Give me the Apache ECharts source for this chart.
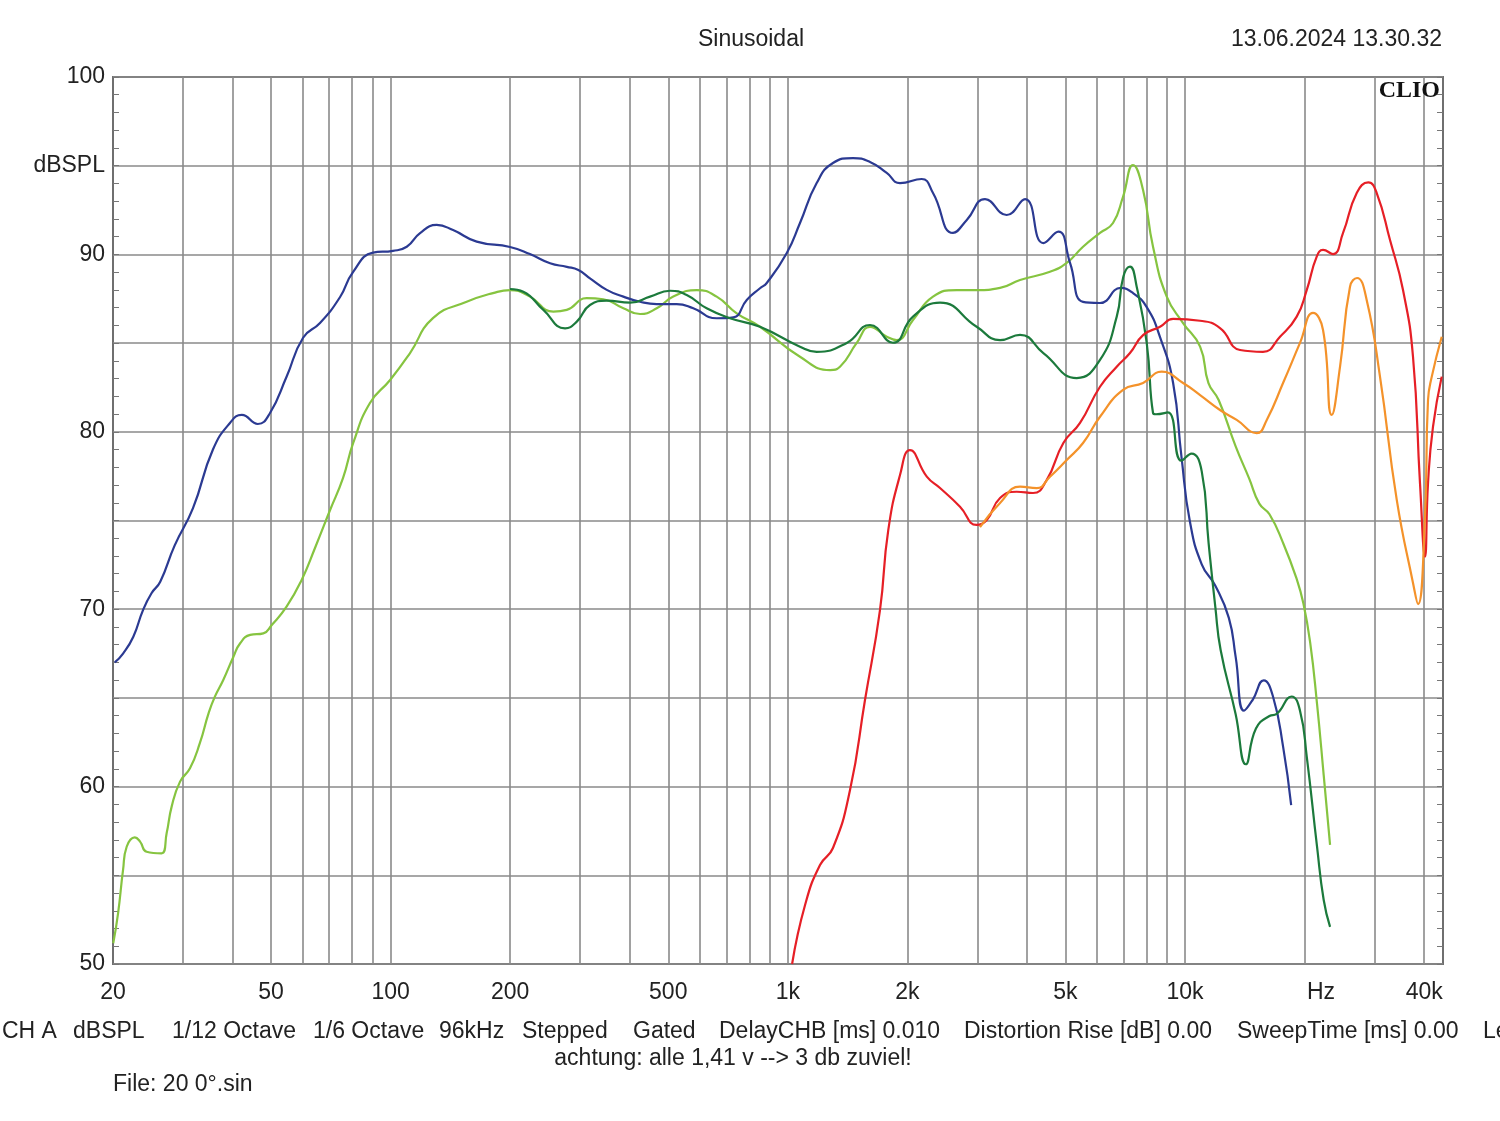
<!DOCTYPE html>
<html>
<head>
<meta charset="utf-8">
<script src="https://cdn.jsdelivr.net/npm/echarts@6/dist/echarts.min.js"></script>
<style>html,body{margin:0;padding:0;background:#fff;}#c{width:1500px;height:1121px;}</style>
</head>
<body>
<div id="c"></div>
<script>
// ---- data (frequency in Hz, level in dBSPL) ----
var blueFreq = [20.2,21.2,22.5,23.8,25.0,26.3,28.6,31.8,35.7,39.4,42.2,46.3,49.7,54.7,60.2,66.4,74.6,80.4,90.3,101.4,109.8,118.6,130.6,143.6,164.7,199.8,224.2,252,277.6,296.9,317.6,350,385.4,424.6,467.6,525,578,662,729,788,851,885,994,1073,1182,1299,1459,1610,1774,1916,2172,2320,2605,2822,3136,3556,3956,4398,4798,5134,5536,6108,6887,7396,8008,8650,9332,9794,10280,11016,11920,12890,13410,14080,14790,15780,16650,17650,18500];
var blueDb = [67.0,67.5,68.45,69.95,70.9,71.55,73.6,75.7,79.0,80.5,80.95,80.44,81.06,83.1,85.3,86.13,87.6,89.0,90.1,90.2,90.43,91.2,91.66,91.37,90.72,90.42,90.02,89.5,89.3,89.12,88.65,88.0,87.62,87.33,87.2,87.2,86.96,86.4,86.45,87.43,88.09,88.39,90.08,91.77,94.02,95.15,95.43,95.21,94.59,94.02,94.25,93.46,91.21,91.94,93.12,92.22,93.12,90.64,91.28,89.52,87.32,87.26,88.11,87.82,87.03,85.34,82.75,78.6,74.97,72.53,71.32,69.51,67.31,64.28,64.88,65.99,65.08,62.27,58.96];

var lightFreq = [20.03,20.6,21.2,21.65,22.7,23.4,24.3,26.5,27.3,28.1,29.5,31.25,33.1,34.8,36.1,37.9,40.2,41.8,44.3,47.8,50.2,54.7,59.7,64.5,70.4,75.9,80.5,88.7,99.7,111.9,127.8,155.4,181,199.8,224.2,256.9,277.6,311.6,343,385.4,424.6,467.6,514.8,589.6,662,743.6,851,1073,1277,1353,1491,1610,1774,1880,2066,2320,2662,2988,3422,3842,4571,5036,5536,6108,6586,6980,7396,7840,8306,8994,9886,10912,11454,12152,13410,14506,15380,16314,17650,19092,19862,20660,21490,22340,23180];
var lightDb = [51.17,52.87,55.3,56.61,57.14,56.9,56.33,56.24,57.38,58.87,60.28,61.03,62.46,64.13,65.07,66.01,67.32,68.08,68.55,68.64,69.11,70.14,71.65,73.45,75.59,77.4,79.37,81.62,82.92,84.44,86.41,87.33,87.82,87.99,87.62,86.77,86.87,87.53,87.47,86.96,86.64,86.96,87.62,87.99,87.62,86.68,85.92,84.23,83.48,83.67,85.01,85.92,85.36,85.17,86.3,87.62,87.99,87.99,88.11,88.56,89.02,89.52,90.43,91.21,91.77,93.25,95.04,93.63,90.43,87.62,86.13,84.8,82.75,81.79,79.18,77.36,75.95,75.35,73.74,71.72,70.32,68.1,64.68,60.65,56.71];

var darkFreq = [199.8,215.8,242.4,274.8,294.2,317.6,350,400.6,449.8,505.2,556.4,624.6,715.2,851,1073,1182,1407,1610,1839,2066,2416,2988,3422,3842,4398,5338,6108,6730,6992,7268,7556,8008,8306,8448,9052,9794,10382,11016,11462,11920,12292,13410,14224,15084,16314,16972,18538,19472,20256,21490,22340,23180];
var darkDb = [88.05,87.9,86.87,85.83,86.21,87.15,87.39,87.28,87.62,87.95,87.71,86.96,86.4,85.92,84.8,84.51,85.01,86.02,85.02,86.49,87.28,85.92,85.17,85.46,84.44,83.03,84.05,86.49,88.74,89.31,88.18,85.01,81.06,80.99,81.09,78.37,78.77,77.77,73.74,70.12,67.7,64.08,61.26,63.27,63.98,64.08,65.08,64.28,61.66,56.63,53.61,52.09];

var redFreq = [1025,1105,1205,1299,1434,1564,1706,1790,1916,2030,2238,2416,2713,2988,3168,3422,3769,4143,4484,4939,5440,6108,6730,7268,7852,8650,9332,10912,12248,13758,15712,17342,19104,20246,21454,22254,23580,24992,27052,28934,30380,32812,35380,37490,39040,40180,40900,42100,44280];
var redDb = [50.0,53.33,55.58,56.54,59.81,64.88,69.95,74.46,77.56,78.97,77.47,76.83,75.78,74.75,75.03,76.27,76.62,76.55,77.28,79.37,80.5,82.54,83.67,84.44,85.46,85.92,86.36,86.26,85.85,84.61,84.51,85.36,86.49,87.99,89.87,90.25,90.02,91.21,93.46,94.06,93.46,90.81,87.99,84.23,77.11,72.96,77.11,80.29,83.11];

var orangeFreq = [3046,3422,3842,4232,4571,5036,5536,6108,6980,7840,8734,9886,10912,12248,13490,15152,16060,17650,19472,20996,22254,23400,24560,26020,27102,28660,30960,34120,37490,38600,40180,40900,41800,44280];
var orangeDb = [74.63,75.99,76.91,76.83,77.47,78.41,79.37,80.85,82.36,82.75,83.39,82.75,82.07,81.23,80.67,79.93,80.67,82.75,85.01,86.7,85.74,80.95,83.67,88.18,88.67,87.43,83.11,76.16,71.48,70.29,75.21,81.79,83.11,85.36];

// axis ticks / labels
var xGridFreqs = [30,40,50,60,70,80,90,100,200,300,400,500,600,700,800,900,1000,2000,3000,4000,5000,6000,7000,8000,9000,10000,20000,30000,40000];
var xLabelFreqs = [20,50,100,200,500,1000,2000,5000,10000,22000,40000];
var xLabelTexts = ['20','50','100','200','500','1k','2k','5k','10k','Hz','40k'];
var yLabelValues = [100,95,90,80,70,60,50];
var yLabelTexts = ['100','dBSPL','90','80','70','60','50'];

var footerItems = [
  ['CH A',2],['dBSPL',73],['1/12 Octave',172],['1/6 Octave',313],['96kHz',439],['Stepped',522],['Gated',633],
  ['DelayCHB [ms] 0.010',719],['Distortion Rise [dB] 0.00',964],['SweepTime [ms] 0.00',1237],['Le',1483]
];

function pairs(f, d){ return f.map(function(v,i){ return [v, d[i]]; }); }

var FONT = '"Liberation Sans", Arial, sans-serif';
var FS = 23;
var chart = echarts.init(document.getElementById('c'), null, {renderer:'canvas'});

function lineSeries(name, f, d, color){
  return {
    name: name, type:'line', data: pairs(f,d), showSymbol:false, symbol:'none',
    smooth:0.5, clip:true,
    lineStyle:{color:color, width:2.2}, itemStyle:{color:color}, z:3
  };
}

var graphics = [
  {type:'text', x:751, y:28, style:{text:'Sinusoidal', font:FS+'px '+FONT, fill:'#222', textAlign:'center'}},
  {type:'text', x:1442, y:28, style:{text:'13.06.2024 13.30.32', font:FS+'px '+FONT, fill:'#222', textAlign:'right'}},
  {type:'text', x:1440, y:79, style:{text:'CLIO', font:'bold 24px "Liberation Serif", "DejaVu Serif", serif', fill:'#111', textAlign:'right'}, z:10},
  {type:'text', x:733, y:1047, style:{text:'achtung: alle 1,41 v --> 3 db zuviel!', font:FS+'px '+FONT, fill:'#222', textAlign:'center'}},
  {type:'text', x:113, y:1073, style:{text:'File: 20 0°.sin', font:FS+'px '+FONT, fill:'#222'}}
];
footerItems.forEach(function(it){
  graphics.push({type:'text', x:it[1], y:1020, style:{text:it[0], font:FS+'px '+FONT, fill:'#222'}});
});

var yAxisCommon = {
  type:'value', min:50, max:100, interval:5,
  axisLine:{show:false},
  axisTick:{show:true, inside:true, length:6, lineStyle:{color:'#777'}},
  minorTick:{show:true, splitNumber:5, length:6, lineStyle:{color:'#777', width:1}},
  minorSplitLine:{show:false}
};

chart.setOption({
  animation:false,
  backgroundColor:'#fff',
  grid:{left:113, top:77, width:1330, height:887, show:true, borderColor:'#6f6f6f', borderWidth:2, backgroundColor:'#fff', containLabel:false},
  xAxis:{
    type:'log', logBase:10, min:20, max:44610,
    axisLine:{show:false},
    axisTick:{show:false, customValues:xGridFreqs},
    axisLabel:{customValues:xLabelFreqs, margin:17, color:'#222', fontSize:FS, fontFamily:FONT,
      formatter:function(v){ for (var i=0;i<xLabelFreqs.length;i++){ if (Math.abs(v-xLabelFreqs[i])/xLabelFreqs[i]<0.01) return xLabelTexts[i]; } return ''; }},
    splitLine:{show:true, lineStyle:{color:'#8a8a8a', width:1.6}},
    minorTick:{show:false}, minorSplitLine:{show:false}
  },
  yAxis:[
    Object.assign({}, yAxisCommon, {
      position:'left',
      axisLabel:{show:true, margin:8, color:'#222', fontSize:FS, fontFamily:FONT,
        formatter:function(v){ var i = yLabelValues.indexOf(Math.round(v)); return i>=0 ? yLabelTexts[i] : ''; }},
      splitLine:{show:true, lineStyle:{color:'#8a8a8a', width:1.6}}
    }),
    Object.assign({}, yAxisCommon, {
      position:'right',
      axisLabel:{show:false},
      splitLine:{show:false}
    })
  ],
  graphic: graphics,
  series:[
    lineSeries('light green', lightFreq, lightDb, '#86c440'),
    lineSeries('blue', blueFreq, blueDb, '#2b3a92'),
    lineSeries('dark green', darkFreq, darkDb, '#1c7a3c'),
    lineSeries('red', redFreq, redDb, '#e61f26'),
    lineSeries('orange', orangeFreq, orangeDb, '#f4922a')
  ]
});
</script>
</body>
</html>
